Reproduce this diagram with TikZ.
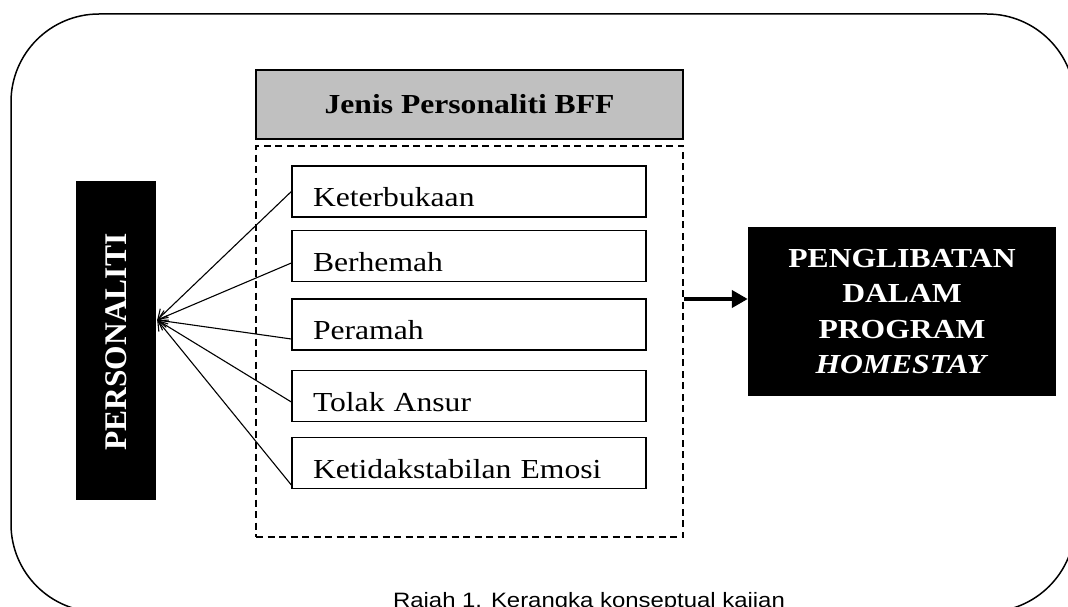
\documentclass[tikz,border=0pt]{standalone}
\usepackage{fontspec}
\setmainfont{Liberation Serif}[FakeStretch=1.15]
\newfontfamily\capfont{Liberation Sans}[FakeStretch=1.15]
\newfontfamily\vertfont{Liberation Serif}
\usetikzlibrary{arrows.meta,calc}
\definecolor{hdrgray}{RGB}{192,192,192}
\begin{document}
\begin{tikzpicture}[x=1pt,y=-1pt,
  itembox/.style={draw, line width=1.3pt, minimum width=354pt, minimum height=51pt,
    text width=312pt, inner xsep=21pt, inner ysep=0pt, text height=30.4pt, text depth=0pt,
    align=left, font=\fontsize{27.5}{33}\selectfont},
  link/.style={line width=1.1pt, -{Straight Barb[length=9pt,width=12pt]}},
  blackbox/.style={fill=black, text=white, inner sep=0pt},
  bigarrow/.style={line width=4.5pt, -{Triangle[length=16pt,width=17pt]}}]
\useasboundingbox (0,0) rectangle (1068,607);
\clip (0,0) rectangle (1068,607);
% outer frame
\draw[line width=1.5pt, rounded corners=88pt] (11,14) rectangle (1075,612);
% header
\node[draw, line width=1.3pt, fill=hdrgray, minimum width=427pt, minimum height=69pt,
  font=\bfseries\fontsize{27.5}{33}\selectfont] (hdr) at (469.5,104.5) {Jenis Personaliti BFF};
% dashed container
\node[draw, line width=1.3pt, dash pattern=on 7pt off 4.5pt, minimum width=427pt,
  minimum height=391pt] (dbox) at (469.5,341.5) {};
% items
\node[itembox] (k1) at (469,191.5) {Keterbukaan};
\node[itembox] (k2) at (469,256) {Berhemah};
\node[itembox] (k3) at (469,324.5) {Peramah};
\node[itembox] (k4) at (469,396) {Tolak Ansur};
\node[itembox] (k5) at (469,463) {Ketidakstabilan Emosi};
% PERSONALITI
\node[blackbox, minimum width=80pt, minimum height=319pt] (pers) at (116,340.5) {};
\node[text=white, rotate=90, font=\vertfont\bfseries\fontsize{31.5}{36}\selectfont] (perstxt) at (116.5,342) {PERSONALITI};
\coordinate (hub) at ($(pers.east)+(1,-20.5)$);
% connectors
\draw[link] (k1.west) -- (hub);
\draw[link] ([yshift=-7pt]k2.west) -- (hub);
\draw[link] ([yshift=-14.5pt]k3.west) -- (hub);
\draw[link] ([yshift=-6pt]k4.west) -- (hub);
\draw[link] ([yshift=-22pt]k5.west) -- (hub);
% outcome
\node[blackbox, minimum width=308pt, minimum height=169pt, align=center,
  font=\bfseries\fontsize{27.5}{35.5}\selectfont] (pen) at (902,311.5)
  {PENGLIBATAN\\DALAM\\PROGRAM\\\textit{HOMESTAY}};
\draw[bigarrow] ([yshift=42.5pt]dbox.east) -- ([yshift=12.5pt]pen.west);
% caption
\node[anchor=base, inner sep=0pt, font=\capfont\fontsize{20.8}{24}\selectfont] (cap) at (589,607)
  {Rajah 1. Kerangka konseptual kajian};
\end{tikzpicture}
\end{document}
